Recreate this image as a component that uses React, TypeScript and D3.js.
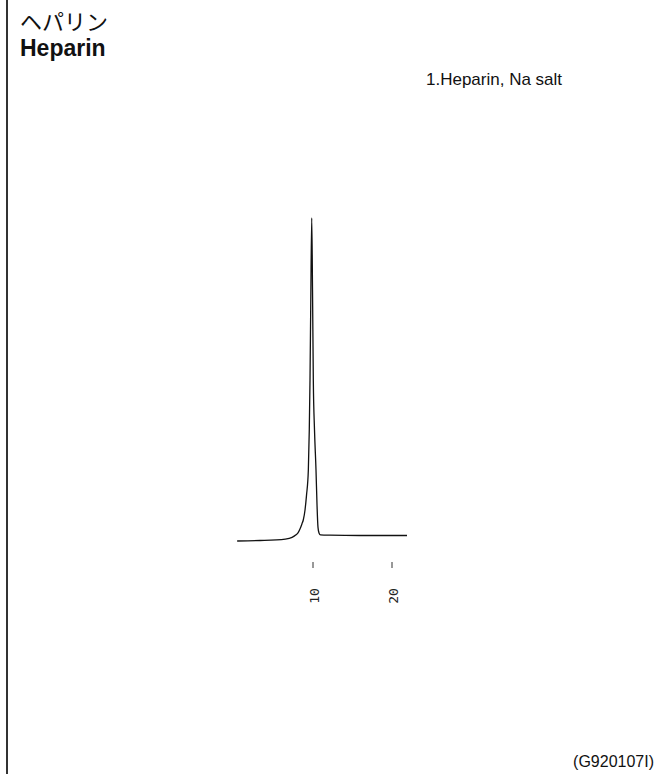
import React from 'react';
import * as d3 from 'd3';

// retention time (min) and detector signal (relative units)
const times = [
  0.4, 3.3, 6.5, 7.35, 7.85, 8.1, 8.35, 8.6, 8.77, 8.99, 9.18, 9.41, 9.53, 9.62, 9.72, 9.84,
  9.94, 10.04, 10.19, 10.38, 10.51, 10.63, 10.76, 10.95, 12.15, 15.95, 21.9,
];
const signal = [
  0, 0.15, 0.6, 1.1, 1.9, 2.5, 3.7, 5.3, 6.5, 9.6, 14.2, 22, 34.4, 49.8, 74.6, 100,
  77.7, 49.8, 34.4, 22, 11.1, 4.3, 2.5, 1.9, 1.8, 1.7, 1.7,
];
const tickValues = [10, 20];
const tickLabels = ['10', '20'];

const W = 656;
const H = 774;

const App = () => {
  const x = d3.scaleLinear().domain([0, 20]).range([234, 392]);
  const y = d3.scaleLinear().domain([0, 100]).range([541, 218]);

  const points = times.map((t, i) => ({ t, s: signal[i] }));
  const line = d3
    .line<{ t: number; s: number }>()
    .x(d => x(d.t))
    .y(d => y(d.s))
    .curve(d3.curveMonotoneX);

  return (
    <svg
      width={W}
      height={H}
      style={{ position: 'absolute', left: 0, top: 0, background: '#fff' }}
    >
      {/* left border */}
      <line x1={7} y1={0} x2={7} y2={H} stroke="#333" strokeWidth={2} />

      {/* titles */}
      <text x={20} y={30} fontFamily="'Noto Sans CJK JP', sans-serif" fontSize={22} fill="#111">
        ヘパリン
      </text>
      <text x={20} y={56} fontFamily="'Liberation Sans', Arial, sans-serif" fontWeight="bold" fontSize={23} fill="#111">
        Heparin
      </text>
      <text x={426} y={85} fontFamily="'Liberation Sans', Arial, sans-serif" fontSize={17} fill="#111">
        1.Heparin, Na salt
      </text>
      <text x={654} y={767} textAnchor="end" fontFamily="'Liberation Sans', Arial, sans-serif" fontSize={16} fill="#111">
        (G920107I)
      </text>

      {/* chromatogram */}
      <path d={line(points) || ''} fill="none" stroke="#111" strokeWidth={1.3} />

      {/* time axis ticks */}
      {tickValues.map((v, i) => (
        <g key={v}>
          <line x1={x(v)} x2={x(v)} y1={562} y2={568} stroke="#333" strokeWidth={1} />
          <text
            transform={`translate(${x(v) + 1},${596}) rotate(-90)`}
            textAnchor="middle"
            dominantBaseline="central"
            fontFamily="'DejaVu Sans Mono', monospace"
            fontSize={13}
            fill="#222"
          >
            {tickLabels[i]}
          </text>
        </g>
      ))}
    </svg>
  );
};

export default App;
